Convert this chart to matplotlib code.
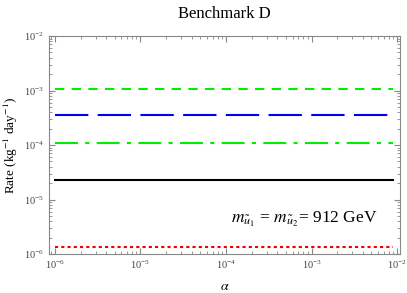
import numpy as np
import matplotlib
matplotlib.use("Agg")
import matplotlib.pyplot as plt

plt.rcParams['font.family'] = ['Liberation Serif', 'DejaVu Serif']
plt.rcParams['mathtext.fontset'] = 'stix'

# rate curves (flat in alpha)
alpha = [1e-6, 9e-3]
green_dashed = [1.05e-3, 1.05e-3]
blue_longdash = [3.6e-4, 3.6e-4]
green_dashdot = [1.07e-4, 1.07e-4]
black_solid = [2.28e-5, 2.28e-5]
red_dotted = [1.32e-6, 1.32e-6]

fig = plt.figure(figsize=(4.07, 2.93), dpi=100)
ax = fig.add_axes([0.120, 0.133, 0.863, 0.744])

ax.plot(alpha, green_dashed, color='#00ee00', lw=1.5, dashes=(4.5, 3.5))
ax.plot(alpha, blue_longdash, color='#0000ee', lw=1.5, dashes=(16, 4.5))
ax.plot(alpha, green_dashdot, color='#00ee00', lw=1.5, dashes=(11, 3.5, 2, 3.5))
ax.plot(alpha, black_solid, color='black', lw=1.5)
ax.plot(alpha, red_dotted, color='#ee0000', lw=1.5, dashes=(1.5, 1.5))

ax.set_xscale('log')
ax.set_yscale('log')
ax.set_xlim(10**-6.07, 10**-1.965)
ax.set_ylim(1e-6, 1e-2)

gray = '#888888'
for s in ax.spines.values():
    s.set_color(gray)
    s.set_linewidth(0.8)
ax.tick_params(which='both', direction='in', top=True, right=True, color=gray,
               labelsize=7.5, labelcolor='#444444')
ax.tick_params(which='major', length=4)
ax.tick_params(which='minor', length=2)
ax.set_xticks([1e-6, 1e-5, 1e-4, 1e-3, 1e-2])
ax.set_yticks([1e-6, 1e-5, 1e-4, 1e-3, 1e-2])

ax.set_title('Benchmark D', fontsize=12, pad=13)
ax.set_xlabel(r'$\alpha$', fontsize=10, labelpad=6)
ax.set_ylabel(r'Rate (kg$^{-1}$ day$^{-1}$)', fontsize=9.5, labelpad=3)
ax.text(0.52, 0.145, r'$m_{\tilde{u}_1}$ = $m_{\tilde{u}_2}$= 912 GeV',
        transform=ax.transAxes, fontsize=12.5)

fig.savefig('out.png', dpi=100)
